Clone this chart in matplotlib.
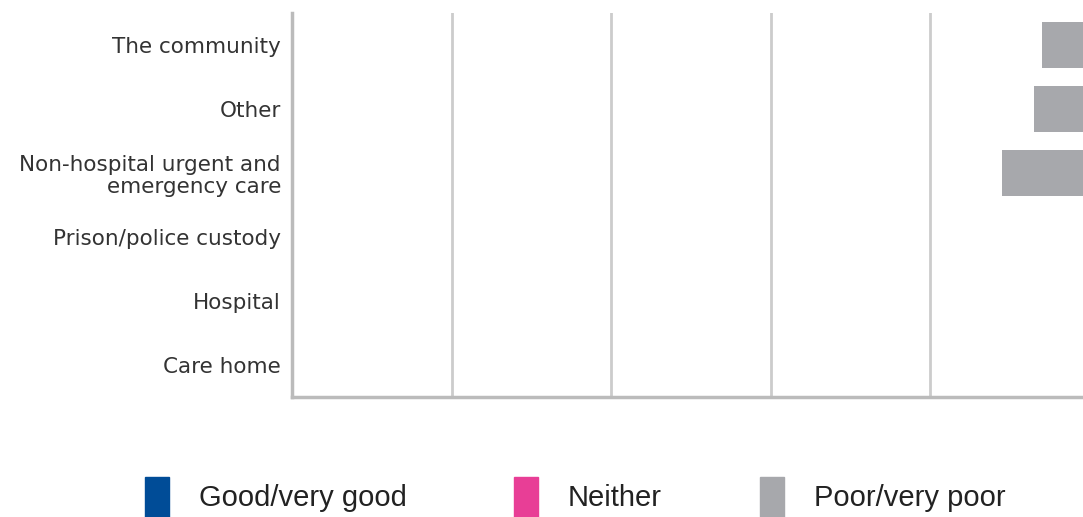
import matplotlib
matplotlib.use("Agg")
import matplotlib.pyplot as plt
from matplotlib.patches import Rectangle

settings = ["Care home", "Hospital", "Prison/police custody",
            "Non-hospital urgent and\nemergency care", "Other", "The community"]
poor = [0, 0, 0, 11, 7, 6]   # % rating poor/very poor, drawn at the right end

series = ["Good/very good", "Neither", "Poor/very poor"]
colors = ["#004C97", "#E83E96", "#A7A8AC"]

fig = plt.figure(figsize=(10.83, 5.17), dpi=100)
ax = fig.add_axes([292 / 1083, 120 / 517, 797.5 / 1083, 384 / 517])

y = list(range(len(settings)))
left = [100 - p for p in poor]
ax.barh(y, poor, left=left, height=0.73, color=colors[2], zorder=3)

ax.set_xlim(0, 100)
ax.set_ylim(-0.5, len(settings) - 0.5)
ax.set_xticks([0, 20, 40, 60, 80, 100])
ax.set_xticklabels([])
ax.tick_params(axis="x", length=0)
ax.tick_params(axis="y", length=0, pad=8)
ax.set_yticks(y)
ax.set_yticklabels(settings, fontsize=15.5, color="#333333", family="DejaVu Sans",
                   linespacing=1.1)
ax.grid(axis="x", color="#CCCCCC", linewidth=2, zorder=0)
for s in ["top", "right"]:
    ax.spines[s].set_visible(False)
for s in ["left", "bottom"]:
    ax.spines[s].set_color("#BBBBBB")
    ax.spines[s].set_linewidth(2.5)

# legend
sq_x = [145, 514, 760]
for xi, name, c in zip(sq_x, series, colors):
    fig.add_artist(Rectangle((xi / 1083, 0), 24 / 1083, 40 / 517,
                             transform=fig.transFigure, color=c))
    fig.text((xi + 54) / 1083, 19 / 517, name, fontsize=21, family="Liberation Sans",
             color="#222222", va="center", ha="left")

fig.savefig("out.png", dpi=100)
